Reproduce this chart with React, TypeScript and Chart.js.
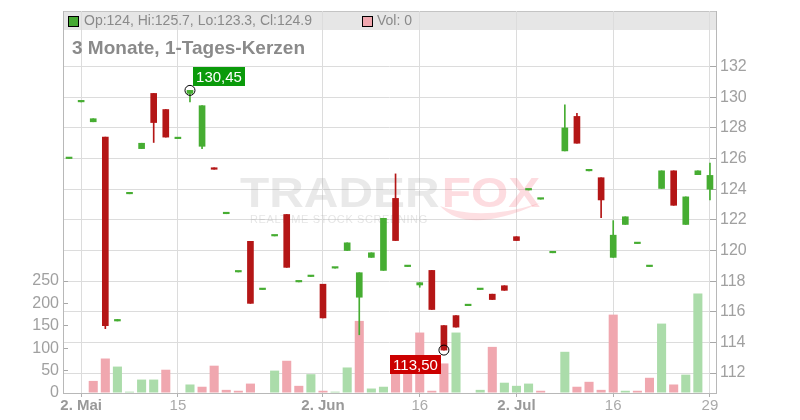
import React, { useEffect, useRef } from 'react';
import { Chart, registerables } from 'chart.js';

Chart.register(...registerables);

const FONT = '"Liberation Sans", Arial, sans-serif';

// Category slots (trading days); only some carry a visible tick label
const xLabels: string[] = [
  '', '2. Mai', '', '', '', '', '', '', '', '15',
  '', '', '', '', '', '', '', '', '', '',
  '', '2. Jun', '', '', '', '', '', '', '', '16',
  '', '', '', '', '', '', '', '2. Jul', '', '',
  '', '', '', '', '', '16', '', '', '', '',
  '', '', '', '29',
];

const opens = [126.0, 129.7, 128.4, 127.4, 115.4, 123.7, 126.65, 130.25, 129.2, 127.3, 130.25, 126.8, 125.4, 122.4, 118.6, 120.6, 117.45, 120.95, 122.35, 117.95, 118.3, 117.8, 118.85, 120.0, 116.95, 119.55, 118.7, 123.4, 118.95, 117.75, 118.7, 115.1, 115.75, 116.4, 117.45, 117.15, 117.7, 120.9, 123.95, 123.35, 119.85, 126.5, 128.75, 125.2, 124.75, 119.55, 121.7, 120.45, 118.95, 124.05, 125.2, 121.7, 124.95, 124.0];
const highs = [126.0, 129.7, 128.6, 127.4, 115.5, 123.7, 127.0, 130.25, 129.2, 127.3, 130.45, 129.45, 125.4, 122.4, 118.6, 120.6, 117.45, 120.95, 122.35, 117.95, 118.3, 117.8, 118.85, 120.5, 118.55, 119.85, 122.1, 125.0, 118.95, 117.9, 118.7, 115.1, 115.75, 116.4, 117.45, 117.15, 117.7, 120.9, 123.95, 123.35, 119.85, 129.5, 128.95, 125.2, 124.75, 121.95, 122.2, 120.45, 118.95, 125.2, 125.2, 123.5, 125.2, 125.7];
const lows = [126.0, 129.7, 128.4, 114.9, 115.4, 123.7, 126.65, 127.05, 127.4, 127.3, 129.7, 126.65, 125.3, 122.4, 118.6, 116.55, 117.45, 120.95, 118.9, 117.95, 118.3, 115.6, 118.85, 120.0, 114.5, 119.55, 118.7, 120.65, 118.95, 117.6, 116.15, 113.5, 115.0, 116.4, 117.45, 116.8, 117.4, 120.65, 123.95, 123.35, 119.85, 126.5, 127.0, 125.2, 122.15, 119.55, 121.7, 120.45, 118.95, 124.05, 122.95, 121.7, 124.95, 123.3];
const closes = [126.0, 129.7, 128.6, 115.1, 115.5, 123.7, 127.0, 128.35, 127.4, 127.3, 130.45, 129.45, 125.3, 122.4, 118.6, 116.55, 117.45, 120.95, 118.9, 117.95, 118.3, 115.6, 118.85, 120.5, 118.55, 119.85, 122.1, 120.65, 118.95, 117.9, 116.15, 113.5, 115.0, 116.4, 117.45, 116.8, 117.4, 120.65, 123.95, 123.35, 119.85, 128.0, 127.0, 125.2, 123.3, 121.0, 122.2, 120.45, 118.95, 125.2, 122.95, 123.5, 125.2, 124.9];
const volumes = [0, 0, 27, 77, 59, 3, 30, 30, 52, 0, 19, 14, 61, 7, 5, 21, 0, 50, 72, 16, 42, 5, 3, 57, 161, 10, 14, 62, 50, 135, 5, 66, 135, 0, 7, 103, 23, 16, 21, 5, 0, 92, 14, 25, 7, 175, 5, 5, 34, 155, 19, 41, 222, 0];

const priceTicks = [112, 114, 116, 118, 120, 122, 124, 126, 128, 130, 132];
const volumeTicks = [0, 50, 100, 150, 200, 250];

const UP = '#46ad32';
const DOWN = '#b41616';
const VOL_UP = '#abdcaa';
const VOL_DOWN = '#f0a7af';

const fmtDe = (v: number) => v.toFixed(2).replace('.', ',');

const decorPlugin = {
  id: 'decor',
  beforeDraw(chart: any) {
    const { ctx, chartArea: a } = chart;
    ctx.save();
    ctx.fillStyle = '#e6e6e6';
    ctx.fillRect(a.left, a.top, a.right - a.left, 19);
    ctx.strokeStyle = '#c4c4c4';
    ctx.lineWidth = 1;
    ctx.beginPath();
    ctx.moveTo(a.left, a.top + 0.5);
    ctx.lineTo(a.right, a.top + 0.5);
    ctx.stroke();
    ctx.restore();
  },
  beforeDatasetsDraw(chart: any) {
    const { ctx } = chart;
    ctx.save();
    // watermark
    ctx.font = `bold 42px ${FONT}`;
    ctx.textBaseline = 'alphabetic';
    ctx.save();
    ctx.translate(240, 207);
    ctx.scale(1.14, 1);
    ctx.fillStyle = 'rgba(170,170,170,0.26)';
    ctx.fillText('TRADER', 0, 0);
    const w = ctx.measureText('TRADER').width;
    ctx.fillStyle = 'rgba(245,110,125,0.24)';
    ctx.fillText('FOX', w + 2, 0);
    ctx.restore();
    // tail swoosh
    ctx.fillStyle = 'rgba(245,110,125,0.22)';
    ctx.beginPath();
    ctx.moveTo(440, 206);
    ctx.quadraticCurveTo(468, 236, 540, 203);
    ctx.quadraticCurveTo(480, 222, 440, 206);
    ctx.fill();
    // subtitle
    ctx.font = `11px ${FONT}`;
    ctx.fillStyle = 'rgba(170,170,170,0.3)';
    (ctx as any).letterSpacing = '0.6px';
    ctx.fillText('REALTIME STOCK SCREENING', 250, 223);
    ctx.restore();
  },
  afterDatasetsDraw(chart: any) {
    const { ctx, chartArea: a, scales } = chart;
    const last = opens.length - 1;
    ctx.save();
    // legend row
    ctx.lineWidth = 1;
    ctx.fillStyle = '#46aa33';
    ctx.fillRect(a.left + 5, a.top + 5, 10, 10);
    ctx.strokeStyle = '#000';
    ctx.strokeRect(a.left + 5.5, a.top + 5.5, 10, 10);
    ctx.font = `14px ${FONT}`;
    ctx.fillStyle = '#8a8a8a';
    ctx.textBaseline = 'middle';
    ctx.textAlign = 'left';
    ctx.fillText(`Op:${opens[last]}, Hi:${highs[last]}, Lo:${lows[last]}, Cl:${closes[last]}`, a.left + 21, a.top + 10);
    ctx.fillStyle = '#f0a7af';
    ctx.fillRect(a.left + 299, a.top + 5, 10, 10);
    ctx.strokeRect(a.left + 299.5, a.top + 5.5, 10, 10);
    ctx.fillStyle = '#8a8a8a';
    ctx.fillText(`Vol: ${volumes[last]}`, a.left + 314, a.top + 10);
    // title
    ctx.font = `bold 19px ${FONT}`;
    ctx.textBaseline = 'alphabetic';
    ctx.fillText('3 Monate, 1-Tages-Kerzen', a.left + 9, a.top + 43);

    // extreme flags
    let hi = 0, lo = 0;
    highs.forEach((v, i) => { if (v > highs[hi]) hi = i; });
    lows.forEach((v, i) => { if (v < lows[lo]) lo = i; });
    const xs = scales.x, ys = scales.y;
    const drawFlag = (idx: number, val: number, color: string, above: boolean) => {
      const px = xs.getPixelForValue(idx);
      const py = ys.getPixelForValue(val);
      ctx.strokeStyle = '#000';
      ctx.lineWidth = 1;
      ctx.beginPath();
      ctx.arc(px, py, 5, 0, Math.PI * 2);
      ctx.stroke();
      const text = fmtDe(val);
      ctx.font = `15px ${FONT}`;
      const tw = ctx.measureText(text).width;
      const bw = Math.round(tw + 6);
      const bh = 19;
      const bx = above ? Math.round(px + 3) : Math.round(px - 3 - bw);
      const by = above ? Math.round(py - 23) : Math.round(py + 5);
      ctx.fillStyle = color;
      ctx.fillRect(bx, by, bw, bh);
      ctx.fillStyle = '#fff';
      ctx.textAlign = 'center';
      ctx.textBaseline = 'middle';
      ctx.fillText(text, bx + bw / 2, by + bh / 2 + 1);
    };
    drawFlag(hi, highs[hi], '#0a9a0a', true);
    drawFlag(lo, lows[lo], '#cc0000', false);
    ctx.restore();
  },
};

export default function App() {
  const ref = useRef<HTMLCanvasElement | null>(null);
  useEffect(() => {
    if (!ref.current) return;
    const candleColors = opens.map((o, i) => (closes[i] >= o ? UP : DOWN));
    const volColors = closes.map((c, i) => (i > 0 && c < closes[i - 1] ? VOL_DOWN : VOL_UP));
    const chart = new Chart(ref.current, {
      type: 'bar',
      data: {
        labels: xLabels,
        datasets: [
          {
            label: 'Kerzenkörper',
            data: opens.map((o, i) => [o, closes[i]]) as any,
            yAxisID: 'y',
            backgroundColor: candleColors,
            barThickness: 6,
            minBarLength: 1.5,
            grouped: false,
            order: 1,
          } as any,
          {
            label: 'Docht',
            data: lows.map((l, i) => [l, highs[i]]) as any,
            yAxisID: 'y',
            backgroundColor: candleColors,
            barThickness: 1,
            grouped: false,
            order: 2,
          } as any,
          {
            label: 'Vol',
            data: volumes,
            yAxisID: 'v',
            backgroundColor: volColors,
            barPercentage: 0.75,
            categoryPercentage: 1,
            grouped: false,
            order: 3,
          } as any,
        ],
      },
      options: {
        responsive: false,
        animation: false,
        events: [],
        layout: { padding: { top: 11, left: 0, right: 0, bottom: 0 } },
        plugins: { legend: { display: false }, tooltip: { enabled: false } },
        scales: {
          x: {
            type: 'category',
            offset: true,
            grid: { offset: false, color: '#dcdcdc', tickColor: '#b0b0b0', tickLength: 4 },
            border: { color: '#b8b8b8' },
            ticks: {
              autoSkip: false,
              maxRotation: 0,
              padding: 0,
              callback: (v: any) => xLabels[v as number],
              font: (c: any) => {
                const l = xLabels[c.tick ? c.tick.value : 0] || '';
                return { family: FONT, size: 15, weight: l.includes('.') ? 'bold' : 'normal' } as any;
              },
              color: (c: any) => {
                const l = xLabels[c.tick ? c.tick.value : 0] || '';
                return l.includes('.') ? '#999999' : '#aaaaaa';
              },
            },
            afterBuildTicks: (s: any) => {
              s.ticks = xLabels.map((l, i) => ({ value: i, label: l })).filter((t) => t.label);
            },
            afterFit: (s: any) => { s.height = 27; s.paddingLeft = 0; s.paddingRight = 0; },
          } as any,
          y: {
            position: 'right',
            min: 110.7,
            max: 135.63,
            grid: { color: '#dcdcdc', tickColor: '#a8a8a8', tickLength: -6 },
            border: { color: '#b8b8b8' },
            ticks: { color: '#a0a0a0', font: { family: FONT, size: 16 }, padding: 10 },
            afterBuildTicks: (s: any) => { s.ticks = priceTicks.map((v) => ({ value: v })); },
            afterFit: (s: any) => { s.width = 84; s.paddingTop = 0; s.paddingBottom = 0; },
          } as any,
          v: {
            position: 'left',
            min: 0,
            max: 853,
            grid: { drawOnChartArea: false, tickColor: '#a8a8a8', tickLength: -5 },
            border: { color: '#b8b8b8' },
            ticks: { color: '#a0a0a0', font: { family: FONT, size: 16 }, padding: 9 },
            afterBuildTicks: (s: any) => { s.ticks = volumeTicks.map((v) => ({ value: v })); },
            afterFit: (s: any) => { s.width = 63; s.paddingTop = 0; s.paddingBottom = 0; },
          } as any,
        },
      },
      plugins: [decorPlugin as any],
    });
    return () => chart.destroy();
  }, []);
  return (
    <div style={{ position: 'fixed', left: 0, top: 0, width: 800, height: 420, background: '#fff' }}>
      <canvas ref={ref} width={800} height={420} />
    </div>
  );
}
